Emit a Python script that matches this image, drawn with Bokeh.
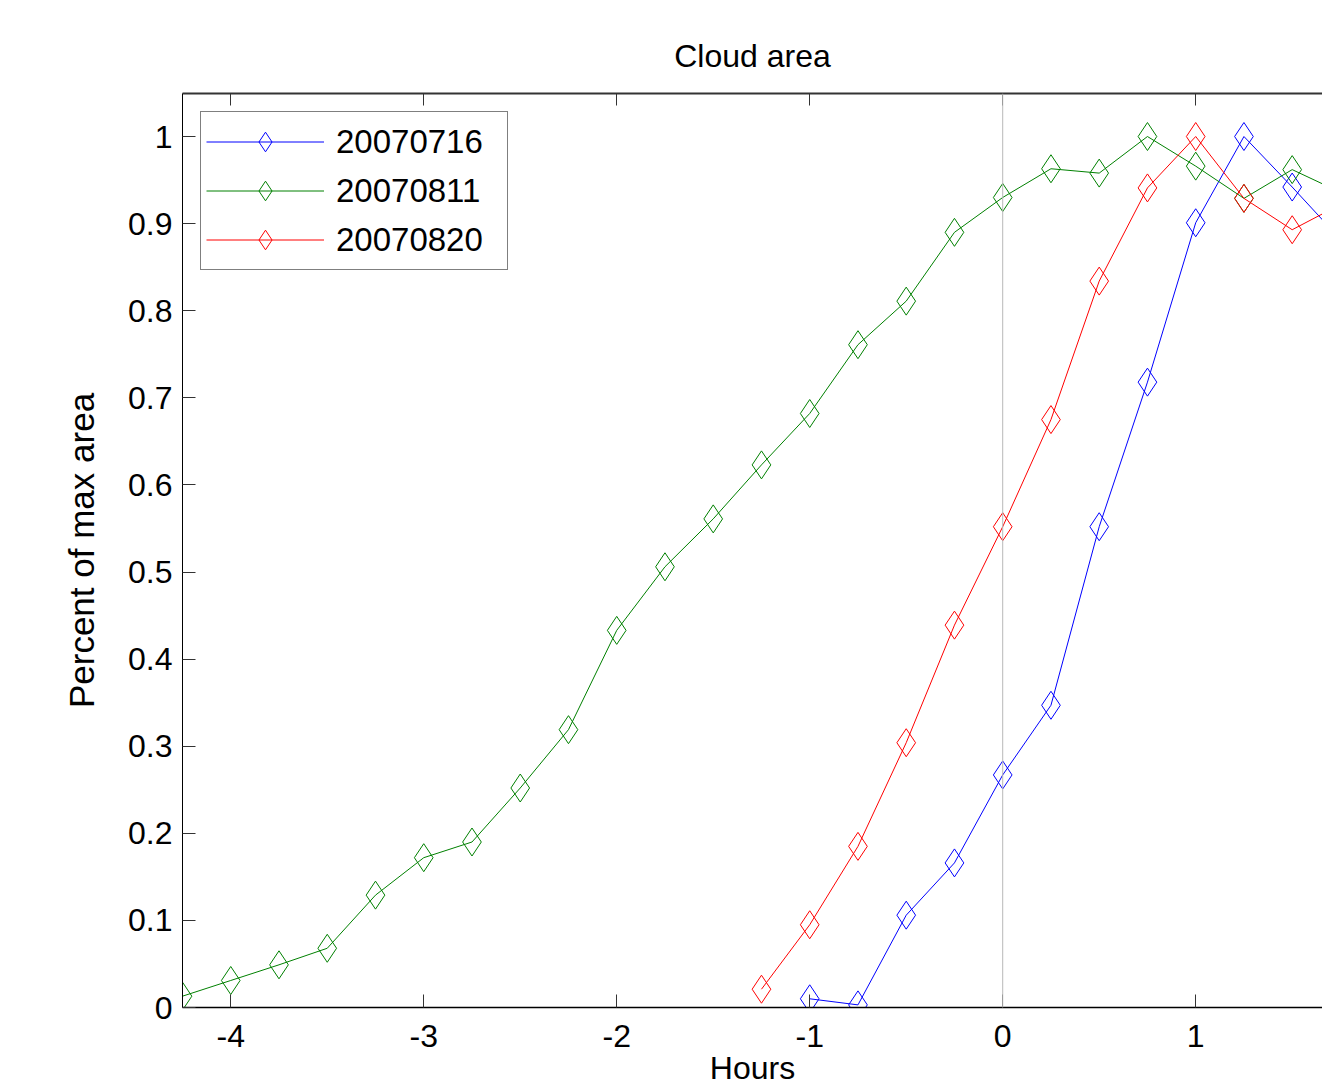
from bokeh.plotting import figure
from bokeh.models import (Range1d, FixedTicker, LinearAxis, NumeralTickFormatter,
                          CustomJSTickFormatter, Span, Legend, LegendItem)
from bokeh.embed import file_html
from bokeh.resources import INLINE

title_text = "Cloud area"
x_label = "Hours"
y_label = "Percent of max area"

x_ticks = [-4, -3, -2, -1, 0, 1, 2]
y_ticks = [0, 0.1, 0.2, 0.3, 0.4, 0.5, 0.6, 0.7, 0.8, 0.9, 1.0]

series_names = ["20070716", "20070811", "20070820"]

hours_0716 = [-1.0, -0.75, -0.5, -0.25, 0.0, 0.25, 0.5, 0.75, 1.0, 1.25, 1.5, 1.75]
area_0716 = [0.010, 0.003, 0.106, 0.166, 0.267, 0.347, 0.552, 0.718, 0.901, 1.0, 0.942, 0.882]

hours_0811 = [-4.25, -4.0, -3.75, -3.5, -3.25, -3.0, -2.75, -2.5, -2.25, -2.0, -1.75, -1.5,
              -1.25, -1.0, -0.75, -0.5, -0.25, 0.0, 0.25, 0.5, 0.75, 1.0, 1.25, 1.5, 1.75]
area_0811 = [0.013, 0.031, 0.049, 0.068, 0.129, 0.172, 0.190, 0.252, 0.319, 0.433, 0.506, 0.561,
             0.623, 0.682, 0.761, 0.811, 0.890, 0.930, 0.963, 0.958, 1.0, 0.966, 0.929, 0.962, 0.936]

hours_0820 = [-1.25, -1.0, -0.75, -0.5, -0.25, 0.0, 0.25, 0.5, 0.75, 1.0, 1.25, 1.5, 1.75]
area_0820 = [0.021, 0.095, 0.185, 0.304, 0.439, 0.552, 0.675, 0.834, 0.941, 1.0, 0.929, 0.893, 0.922]

colors = ["#0000ff", "#008000", "#ff0000"]

FONT = "Liberation Sans"

p = figure(width=1322, height=1088, output_backend="svg", toolbar_location=None,
           x_range=Range1d(-4.25, 1.657), y_range=Range1d(0, 1.0494),
           min_border_left=182, min_border_right=0, min_border_top=93, min_border_bottom=81)
p.outline_line_color = None
p.grid.visible = False
p.background_fill_color = "white"
p.border_fill_color = "white"

# title
p.title.text = title_text
p.title.text_font = FONT
p.title.text_font_size = "32px"
p.title.text_font_style = "normal"
p.title.text_color = "black"
p.title.align = "center"
p.title.offset = 6
p.title.standoff = 40

# axes
for ax in (p.xaxis[0], p.yaxis[0]):
    ax.major_label_text_font = FONT
    ax.major_label_text_font_size = "32px"
    ax.major_label_text_color = "black"
    ax.major_tick_in = 13
    ax.major_tick_out = 0
    ax.minor_tick_in = 0
    ax.minor_tick_out = 0
    ax.major_tick_line_color = "#333333"
    ax.axis_line_color = "black"

p.xaxis[0].ticker = FixedTicker(ticks=x_ticks)
p.xaxis[0].formatter = CustomJSTickFormatter(code="return tick.toString()")
p.xaxis[0].major_label_standoff = 17
p.xaxis[0].axis_line_width = 1.5
p.xaxis[0].axis_label = x_label
p.xaxis[0].axis_label_text_font = FONT
p.xaxis[0].axis_label_text_font_size = "32px"
p.xaxis[0].axis_label_text_font_style = "normal"
p.xaxis[0].axis_label_text_color = "black"
p.xaxis[0].axis_label_standoff = 0

p.yaxis[0].ticker = FixedTicker(ticks=y_ticks)
p.yaxis[0].formatter = NumeralTickFormatter(format="0.[0]")
p.yaxis[0].major_label_standoff = 10
p.yaxis[0].axis_label = y_label
p.yaxis[0].axis_label_text_font = FONT
p.yaxis[0].axis_label_text_font_size = "35px"
p.yaxis[0].axis_label_text_font_style = "normal"
p.yaxis[0].axis_label_text_color = "black"
p.yaxis[0].axis_label_standoff = 24

top_axis = LinearAxis(ticker=FixedTicker(ticks=x_ticks),
                      formatter=CustomJSTickFormatter(code="return ''"),
                      major_tick_in=12, major_tick_out=0, minor_tick_in=0, minor_tick_out=0,
                      major_tick_line_color="#333333", axis_line_color="#333333",
                      axis_line_width=2, major_label_standoff=0)
p.add_layout(top_axis, "above")

# vertical line at x = 0
p.add_layout(Span(location=0, dimension="height", line_color="#b8b8b8", line_width=1))

renderers = []
for xs, ys, c in zip([hours_0716, hours_0811, hours_0820],
                     [area_0716, area_0811, area_0820], colors):
    l = p.line(xs, ys, line_color=c, line_width=1)
    s = p.scatter(xs, ys, marker="diamond", size=28, fill_color=None, line_color=c, line_width=1)
    renderers.append([l, s])

legend = Legend(items=[LegendItem(label=n, renderers=r) for n, r in zip(series_names, renderers)],
                location="top_left", margin=18, padding=5, spacing=0,
                glyph_width=118, glyph_height=49, label_height=49, label_width=166,
                label_standoff=12, label_text_font=FONT, label_text_font_size="33px",
                label_text_color="black",
                border_line_color="black", border_line_width=1,
                background_fill_color="white", background_fill_alpha=1.0)
p.add_layout(legend, "center")

open("out.html", "w").write(file_html(p, INLINE))
